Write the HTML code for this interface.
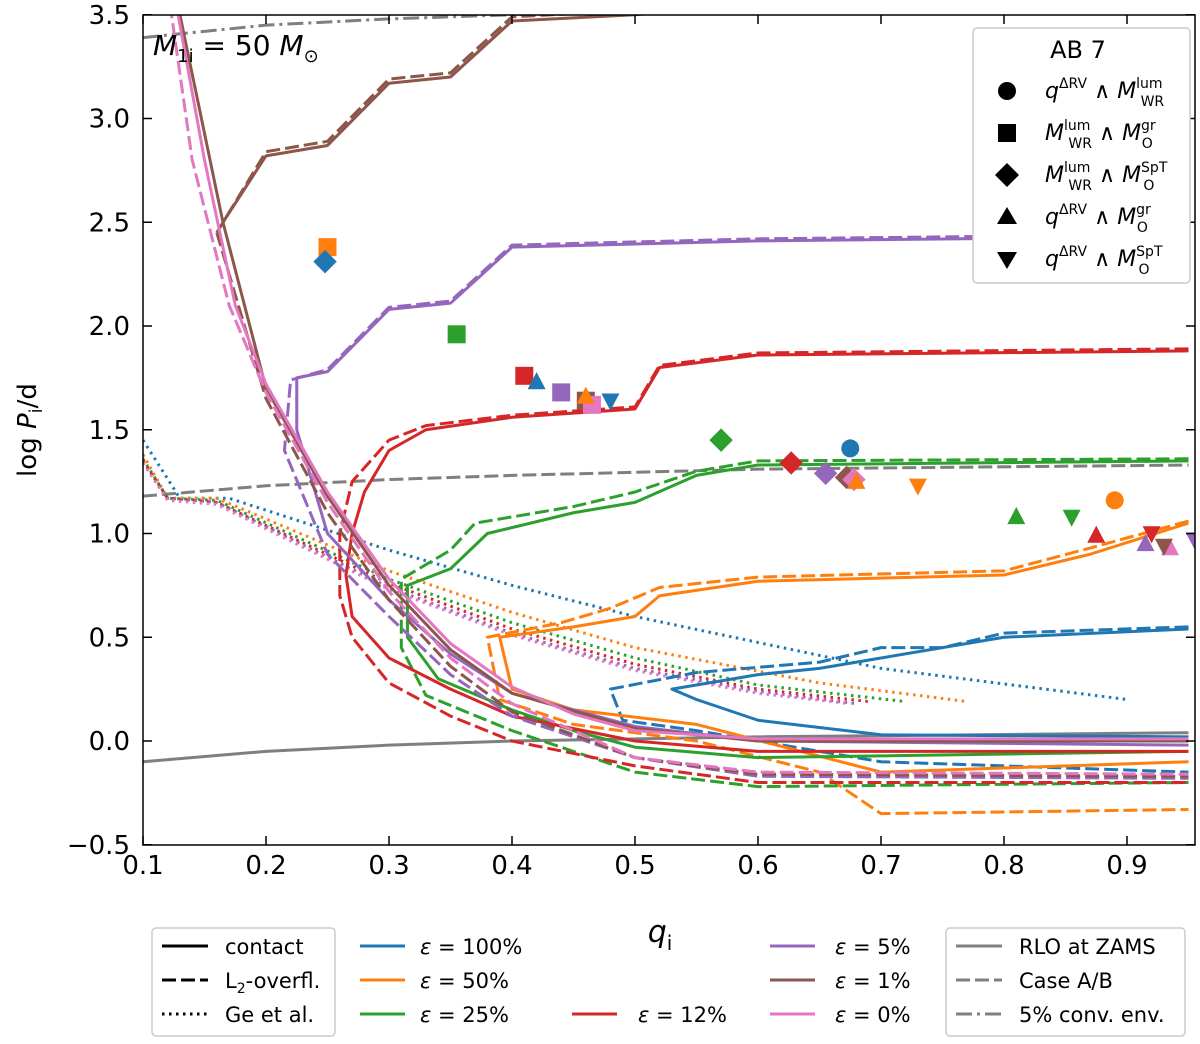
<!DOCTYPE html>
<html><head><meta charset="utf-8"><style>
body{margin:0;background:#fff}
svg text{font-family:"DejaVu Sans","Liberation Sans",sans-serif;fill:#000}
</style></head><body>
<svg id="chart" width="1200" height="1039" xmlns="http://www.w3.org/2000/svg">
<defs><clipPath id="clip"><rect x="143" y="15" width="1052" height="830"/></clipPath></defs>
<g id="plot" clip-path="url(#clip)"></g>
<g id="axes"></g>
<g>
<text x="660" y="942" font-size="30" font-style="italic" text-anchor="middle">q<tspan font-size="20" font-style="normal" dy="8">i</tspan></text>
<text transform="translate(36,430) rotate(-90)" font-size="26" text-anchor="middle">log <tspan font-style="italic">P</tspan><tspan font-size="18" dy="6">i</tspan><tspan dy="-6">/d</tspan></text>
<text x="153" y="55" font-size="28"><tspan font-style="italic">M</tspan><tspan font-size="18" dy="7">1i</tspan><tspan dy="-7"> = 50 </tspan><tspan font-style="italic">M</tspan><tspan font-size="18" dy="7">⊙</tspan></text>
<g>
<rect x="973" y="28" width="217" height="255" rx="4" fill="#fff" stroke="#ccc" stroke-width="1.5"/>
<text x="1078" y="58" font-size="24" text-anchor="middle">AB 7</text>
<circle cx="1007" cy="91" r="9"/><text x="1045" y="98" font-size="22"><tspan font-style="italic">q</tspan><tspan font-size="14" dy="-10">ΔRV</tspan><tspan dy="10"> ∧ </tspan><tspan font-style="italic">M</tspan><tspan font-size="14" dy="-10">lum</tspan><tspan font-size="14" dx="-22" dy="18">WR</tspan></text>
<rect x="998" y="124" width="18" height="18"/><text x="1045" y="140" font-size="22"><tspan font-style="italic">M</tspan><tspan font-size="14" dy="-10">lum</tspan><tspan font-size="14" dx="-22" dy="18">WR</tspan><tspan dy="-8"> ∧ </tspan><tspan font-style="italic">M</tspan><tspan font-size="14" dy="-10">gr</tspan><tspan font-size="14" dx="-14" dy="18">O</tspan></text>
<polygon points="1007,163 1019,175 1007,187 995,175"/><text x="1045" y="182" font-size="22"><tspan font-style="italic">M</tspan><tspan font-size="14" dy="-10">lum</tspan><tspan font-size="14" dx="-22" dy="18">WR</tspan><tspan dy="-8"> ∧ </tspan><tspan font-style="italic">M</tspan><tspan font-size="14" dy="-10">SpT</tspan><tspan font-size="14" dx="-24" dy="18">O</tspan></text>
<polygon points="1007,207 1017,224 997,224"/><text x="1045" y="224" font-size="22"><tspan font-style="italic">q</tspan><tspan font-size="14" dy="-10">ΔRV</tspan><tspan dy="10"> ∧ </tspan><tspan font-style="italic">M</tspan><tspan font-size="14" dy="-10">gr</tspan><tspan font-size="14" dx="-14" dy="18">O</tspan></text>
<polygon points="997,252 1017,252 1007,269"/><text x="1045" y="266" font-size="22"><tspan font-style="italic">q</tspan><tspan font-size="14" dy="-10">ΔRV</tspan><tspan dy="10"> ∧ </tspan><tspan font-style="italic">M</tspan><tspan font-size="14" dy="-10">SpT</tspan><tspan font-size="14" dx="-24" dy="18">O</tspan></text>
</g>
<g>
<rect x="152" y="928" width="183" height="108" rx="4" fill="#fff" stroke="#ccc" stroke-width="1.5"/>
<line x1="162" y1="946" x2="208" y2="946" stroke="#000" stroke-width="3"/><text x="225" y="954" font-size="21">contact</text>
<line x1="162" y1="980" x2="208" y2="980" stroke="#000" stroke-width="3" stroke-dasharray="14,5"/><text x="225" y="988" font-size="21">L<tspan font-size="14" dy="5">2</tspan><tspan dy="-5">-overfl.</tspan></text>
<line x1="162" y1="1014" x2="208" y2="1014" stroke="#000" stroke-width="3" stroke-dasharray="2.5,4.5"/><text x="225" y="1022" font-size="21">Ge et al.</text>
</g>
<g font-size="21">
<line x1="360" y1="946" x2="405" y2="946" stroke="#1f77b4" stroke-width="3"/><text x="420" y="954"><tspan font-style="italic">ε</tspan> = 100%</text>
<line x1="360" y1="980" x2="405" y2="980" stroke="#ff7f0e" stroke-width="3"/><text x="420" y="988"><tspan font-style="italic">ε</tspan> = 50%</text>
<line x1="360" y1="1014" x2="405" y2="1014" stroke="#2ca02c" stroke-width="3"/><text x="420" y="1022"><tspan font-style="italic">ε</tspan> = 25%</text>
<line x1="572" y1="1014" x2="617" y2="1014" stroke="#d62728" stroke-width="3"/><text x="638" y="1022"><tspan font-style="italic">ε</tspan> = 12%</text>
<line x1="770" y1="946" x2="815" y2="946" stroke="#9467bd" stroke-width="3"/><text x="835" y="954"><tspan font-style="italic">ε</tspan> = 5%</text>
<line x1="770" y1="980" x2="815" y2="980" stroke="#8c564b" stroke-width="3"/><text x="835" y="988"><tspan font-style="italic">ε</tspan> = 1%</text>
<line x1="770" y1="1014" x2="815" y2="1014" stroke="#e377c2" stroke-width="3"/><text x="835" y="1022"><tspan font-style="italic">ε</tspan> = 0%</text>
</g>
<g>
<rect x="946" y="928" width="239" height="108" rx="4" fill="#fff" stroke="#ccc" stroke-width="1.5"/>
<line x1="956" y1="946" x2="1002" y2="946" stroke="#7f7f7f" stroke-width="3"/><text x="1019" y="954" font-size="21">RLO at ZAMS</text>
<line x1="956" y1="980" x2="1002" y2="980" stroke="#7f7f7f" stroke-width="3" stroke-dasharray="14,5"/><text x="1019" y="988" font-size="21">Case A/B</text>
<line x1="956" y1="1014" x2="1002" y2="1014" stroke="#7f7f7f" stroke-width="3" stroke-dasharray="16,5,3,5"/><text x="1019" y="1022" font-size="21">5% conv. env.</text>
</g>
</g>
</svg>
<script>
const xTicks=[0.1,0.2,0.3,0.4,0.5,0.6,0.7,0.8,0.9];
const yTicks=[-0.5,0.0,0.5,1.0,1.5,2.0,2.5,3.0,3.5];
const grayRLO=[[0.1,-0.1],[0.2,-0.05],[0.3,-0.02],[0.4,0.0],[0.6,0.02],[0.95,0.04]];
const grayCase=[[0.1,1.18],[0.2,1.23],[0.3,1.26],[0.4,1.28],[0.6,1.31],[0.95,1.33]];
const grayConv=[[0.1,3.39],[0.2,3.45],[0.3,3.48],[0.4,3.5],[0.6,3.53]];
const pinkC=[[0.127,3.55],[0.15,2.8],[0.175,2.1],[0.2,1.72],[0.25,1.2],[0.3,0.78],[0.35,0.47],[0.4,0.26],[0.45,0.13],[0.5,0.05],[0.6,0.01],[0.95,0.01]];
const pinkD=[[0.122,3.55],[0.14,2.8],[0.17,2.1],[0.2,1.68],[0.25,1.15],[0.3,0.72],[0.35,0.4],[0.4,0.18],[0.45,0.05],[0.5,-0.08],[0.6,-0.15],[0.95,-0.16]];
const brownC=[[0.13,3.5],[0.165,2.5],[0.2,2.82],[0.25,2.87],[0.3,3.17],[0.35,3.2],[0.4,3.47],[0.5,3.5],[0.6,3.55]];
const brownLow=[[0.165,2.5],[0.2,1.7],[0.25,1.18],[0.3,0.75],[0.35,0.44],[0.4,0.23],[0.5,0.06],[0.6,0.0],[0.95,0.0]];
const brownD=[[0.16,2.45],[0.2,2.84],[0.25,2.89],[0.3,3.19],[0.35,3.22],[0.4,3.49],[0.5,3.52]];
const brownDLow=[[0.16,2.45],[0.2,1.65],[0.25,1.1],[0.3,0.68],[0.35,0.36],[0.4,0.14],[0.5,-0.08],[0.6,-0.16],[0.95,-0.17]];
const purpleC=[[0.95,2.69],[0.935,2.68],[0.92,2.43],[0.6,2.41],[0.4,2.38],[0.35,2.11],[0.3,2.08],[0.25,1.78],[0.225,1.75],[0.225,1.5],[0.25,1.0],[0.3,0.68],[0.35,0.42],[0.4,0.23],[0.5,0.07],[0.6,0.0],[0.95,-0.02]];
const purpleD=[[0.95,2.7],[0.935,2.69],[0.92,2.44],[0.6,2.42],[0.4,2.39],[0.35,2.12],[0.3,2.09],[0.25,1.79],[0.22,1.74],[0.215,1.4],[0.25,0.9],[0.3,0.6],[0.35,0.32],[0.4,0.12],[0.5,-0.08],[0.6,-0.17],[0.95,-0.18]];
const redC=[[0.95,1.88],[0.6,1.86],[0.52,1.8],[0.5,1.6],[0.4,1.56],[0.33,1.5],[0.3,1.4],[0.28,1.2],[0.27,1.0],[0.265,0.8],[0.27,0.6],[0.3,0.4],[0.35,0.25],[0.4,0.12],[0.5,0.0],[0.6,-0.05],[0.95,-0.05]];
const redD=[[0.95,1.89],[0.6,1.87],[0.52,1.81],[0.5,1.61],[0.4,1.57],[0.33,1.52],[0.3,1.45],[0.27,1.25],[0.26,1.0],[0.26,0.7],[0.27,0.5],[0.3,0.28],[0.35,0.12],[0.4,0.0],[0.5,-0.12],[0.6,-0.2],[0.95,-0.2]];
const greenC=[[0.95,1.35],[0.6,1.33],[0.55,1.28],[0.5,1.15],[0.45,1.1],[0.38,1.0],[0.35,0.83],[0.315,0.75],[0.315,0.5],[0.34,0.3],[0.4,0.15],[0.45,0.05],[0.5,-0.03],[0.6,-0.08],[0.95,-0.05]];
const greenD=[[0.95,1.36],[0.6,1.35],[0.55,1.3],[0.5,1.2],[0.45,1.13],[0.37,1.05],[0.35,0.92],[0.31,0.78],[0.31,0.45],[0.33,0.22],[0.4,0.05],[0.45,-0.05],[0.5,-0.15],[0.6,-0.22],[0.95,-0.2]];
const orangeC=[[0.95,1.05],[0.87,0.9],[0.8,0.8],[0.6,0.77],[0.52,0.7],[0.5,0.6],[0.45,0.55],[0.39,0.5],[0.4,0.25],[0.45,0.15],[0.55,0.08],[0.7,-0.15],[0.95,-0.1]];
const orangeD=[[0.95,1.06],[0.87,0.93],[0.8,0.82],[0.6,0.79],[0.52,0.74],[0.48,0.64],[0.44,0.57],[0.38,0.5],[0.39,0.2],[0.45,0.08],[0.55,0.0],[0.65,-0.15],[0.7,-0.35],[0.95,-0.33]];
const blueC=[[0.95,0.54],[0.8,0.5],[0.7,0.4],[0.65,0.35],[0.6,0.32],[0.53,0.25],[0.55,0.2],[0.6,0.1],[0.7,0.03],[0.95,0.02]];
const blueD=[[0.95,0.55],[0.8,0.52],[0.75,0.45],[0.7,0.45],[0.65,0.38],[0.55,0.33],[0.48,0.25],[0.49,0.1],[0.55,0.05],[0.7,-0.1],[0.95,-0.15]];
const blueG=[[0.1,1.45],[0.13,1.17],[0.17,1.17],[0.3,0.92],[0.4,0.75],[0.5,0.6],[0.7,0.35],[0.9,0.2]];
const orangeG=[[0.1,1.38],[0.12,1.17],[0.16,1.17],[0.3,0.82],[0.4,0.62],[0.5,0.45],[0.65,0.28],[0.77,0.19]];
const greenG=[[0.1,1.36],[0.12,1.17],[0.16,1.16],[0.3,0.78],[0.4,0.57],[0.5,0.4],[0.6,0.27],[0.72,0.19]];
const redG=[[0.1,1.35],[0.12,1.17],[0.16,1.15],[0.3,0.76],[0.4,0.54],[0.5,0.37],[0.6,0.25],[0.69,0.19]];
const purpleG=[[0.1,1.34],[0.12,1.17],[0.16,1.15],[0.3,0.74],[0.4,0.52],[0.5,0.35],[0.6,0.24],[0.68,0.18]];
const pinkG=[[0.1,1.34],[0.12,1.16],[0.16,1.14],[0.3,0.73],[0.4,0.51],[0.5,0.34],[0.6,0.23],[0.675,0.18]];
const markers=[
['circle','#1f77b4',0.675,1.41],['circle','#ff7f0e',0.89,1.16],
['square','#ff7f0e',0.25,2.38],['square','#2ca02c',0.355,1.96],['square','#d62728',0.41,1.76],['square','#9467bd',0.44,1.68],['square','#8c564b',0.46,1.64],['square','#e377c2',0.465,1.62],
['diamond','#1f77b4',0.248,2.31],['diamond','#2ca02c',0.57,1.45],['diamond','#d62728',0.627,1.34],['diamond','#9467bd',0.655,1.29],['diamond','#8c564b',0.672,1.27],['diamond','#e377c2',0.678,1.26],
['up','#1f77b4',0.42,1.73],['up','#ff7f0e',0.46,1.66],['up','#ff7f0e',0.68,1.25],['up','#2ca02c',0.81,1.08],['up','#d62728',0.875,0.99],['up','#9467bd',0.915,0.95],['up','#e377c2',0.935,0.93],
['down','#1f77b4',0.48,1.64],['down','#ff7f0e',0.73,1.23],['down','#2ca02c',0.855,1.08],['down','#d62728',0.92,1.0],['down','#8c564b',0.93,0.94],['down','#9467bd',0.955,0.97]];

const X=q=>143+(q-0.1)*1230, Y=v=>741-v*207.5;
const NS='http://www.w3.org/2000/svg';
function mk(p,tag,a){const e=document.createElementNS(NS,tag);for(const k in a)e.setAttribute(k,a[k]);p.appendChild(e);return e;}
const plot=document.getElementById('plot'),axes=document.getElementById('axes');
const DASH={s:'',d:'14,5',o:'2.5,4.5',dd:'16,5,3,5'};
function line(pts,col,sty,name,w){const e=mk(plot,'polyline',{points:pts.map(p=>X(p[0])+','+Y(p[1])).join(' '),fill:'none',stroke:col,'stroke-width':w||3,'stroke-dasharray':DASH[sty],'stroke-linejoin':'round'});

}
line(grayRLO,'#7f7f7f','s','rlo-zams-line');line(grayCase,'#7f7f7f','d','case-ab-line');line(grayConv,'#7f7f7f','dd','conv-env-line');
line(blueG,'#1f77b4','o','ge-blue');line(orangeG,'#ff7f0e','o','ge-orange');line(greenG,'#2ca02c','o','ge-green');line(redG,'#d62728','o','ge-red');line(purpleG,'#9467bd','o','ge-purple');line(pinkG,'#e377c2','o','ge-pink');
line(blueD,'#1f77b4','d','l2-blue');line(blueC,'#1f77b4','s','contact-blue');
line(orangeD,'#ff7f0e','d','l2-orange');line(orangeC,'#ff7f0e','s','contact-orange');
line(greenD,'#2ca02c','d','l2-green');line(greenC,'#2ca02c','s','contact-green');
line(redD,'#d62728','d','l2-red');line(redC,'#d62728','s','contact-red');
line(purpleD,'#9467bd','d','l2-purple');line(purpleC,'#9467bd','s','contact-purple');
line(brownD,'#8c564b','d','l2-brown');line(brownDLow,'#8c564b','d','l2-brown-low');line(brownC,'#8c564b','s','contact-brown');line(brownLow,'#8c564b','s','contact-brown-low');
line(pinkD,'#e377c2','d','l2-pink');line(pinkC,'#e377c2','s','contact-pink');
function marker(g,shape,col,x,y,s){let e;s=s||9;
if(shape==='circle')e=mk(g,'circle',{cx:x,cy:y,r:s,fill:col});
else if(shape==='square')e=mk(g,'rect',{x:x-s,y:y-s,width:2*s,height:2*s,fill:col});
else if(shape==='diamond')e=mk(g,'polygon',{points:`${x},${y-s*1.3} ${x+s*1.3},${y} ${x},${y+s*1.3} ${x-s*1.3},${y}`,fill:col});
else if(shape==='up')e=mk(g,'polygon',{points:`${x},${y-s*1.1} ${x+s},${y+s*0.8} ${x-s},${y+s*0.8}`,fill:col});
else e=mk(g,'polygon',{points:`${x},${y+s*1.1} ${x+s},${y-s*0.8} ${x-s},${y-s*0.8}`,fill:col});
return e;}
markers.forEach(m=>{const e=marker(plot,m[0],m[1],X(m[2]),Y(m[3]));

});
mk(axes,'rect',{x:143,y:15,width:1052,height:830,fill:'none',stroke:'#000','stroke-width':1.5});
xTicks.forEach(t=>{const x=X(t);mk(axes,'line',{x1:x,x2:x,y1:845,y2:836,stroke:'#000','stroke-width':1.5});mk(axes,'line',{x1:x,x2:x,y1:15,y2:24,stroke:'#000','stroke-width':1.5});
const e=mk(axes,'text',{x:x,y:874,'font-size':26,'text-anchor':'middle'});e.textContent=t.toFixed(1);

});
yTicks.forEach(t=>{const y=Y(t);mk(axes,'line',{x1:143,x2:152,y1:y,y2:y,stroke:'#000','stroke-width':1.5});mk(axes,'line',{x1:1195,x2:1186,y1:y,y2:y,stroke:'#000','stroke-width':1.5});
const e=mk(axes,'text',{x:130,y:y+9,'font-size':26,'text-anchor':'end'});e.textContent=(t<0?'\u2212':'')+Math.abs(t).toFixed(1);

});
</script>
</body></html>
